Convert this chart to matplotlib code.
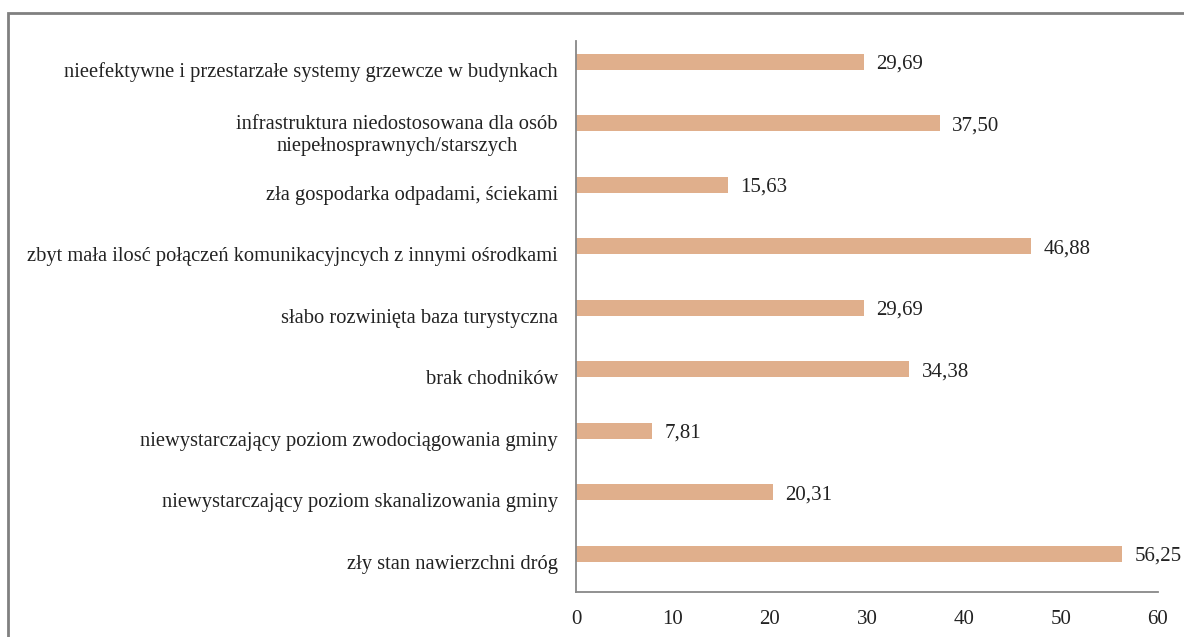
import matplotlib.pyplot as plt
from matplotlib.patches import Rectangle

categories = [
    'nieefektywne i przestarzałe systemy grzewcze w budynkach',
    'infrastruktura niedostosowana dla osób\nniepełnosprawnych/starszych',
    'zła gospodarka odpadami, ściekami',
    'zbyt mała ilosć połączeń komunikacyjncych z innymi ośrodkami',
    'słabo rozwinięta baza turystyczna',
    'brak chodników',
    'niewystarczający poziom zwodociągowania gminy',
    'niewystarczający poziom skanalizowania gminy',
    'zły stan nawierzchni dróg',
]
values = [29.69, 37.50, 15.63, 46.88, 29.69, 34.38, 7.81, 20.31, 56.25]
x_ticks = [0, 10, 20, 30, 40, 50, 60]

plt.rcParams['font.family'] = ['Liberation Serif', 'DejaVu Serif']

fig = plt.figure(figsize=(11.84, 6.37), dpi=100)
ax = fig.add_axes([0.4865, 0.0706, 0.4915, 0.865])

n = len(categories)
pos = [n - 1 - i for i in range(n)]
bar_pos = [p + 0.13 for p in pos]

ax.barh(bar_pos, values, height=0.26, color='#E0AF8C')

for y, v in zip(bar_pos, values):
    ax.text(v + 1.3, y - 0.04, f'{v:.2f}'.replace('.', ','), va='center', ha='left',
            fontsize=15, color='#222222')

ax.set_yticks(pos)
ax.set_yticklabels(categories, fontsize=14.8, color='#222222', multialignment='center')
ax.set_xticks(x_ticks)
ax.set_xticklabels([str(t) for t in x_ticks], fontsize=15, color='#222222')
ax.tick_params(axis='both', length=0)
ax.tick_params(axis='y', pad=13)
ax.tick_params(axis='x', pad=13)
ax.set_xlim(0, 60)
ax.set_ylim(0.13 - 0.62, n - 1 + 0.13 + 0.34)

for s in ['top', 'right']:
    ax.spines[s].set_visible(False)
for s in ['left', 'bottom']:
    ax.spines[s].set_color('#888888')
    ax.spines[s].set_linewidth(1.3)

# ramka wokół wykresu (prawa i dolna krawędź poza obrazem)
frame = Rectangle((8 / 1184, -0.1), 1.2, (637 - 13) / 637 + 0.1,
                  transform=fig.transFigure, fill=False,
                  edgecolor='#808080', linewidth=2)
fig.patches.append(frame)

plt.savefig('out.png', dpi=100)
plt.close()
